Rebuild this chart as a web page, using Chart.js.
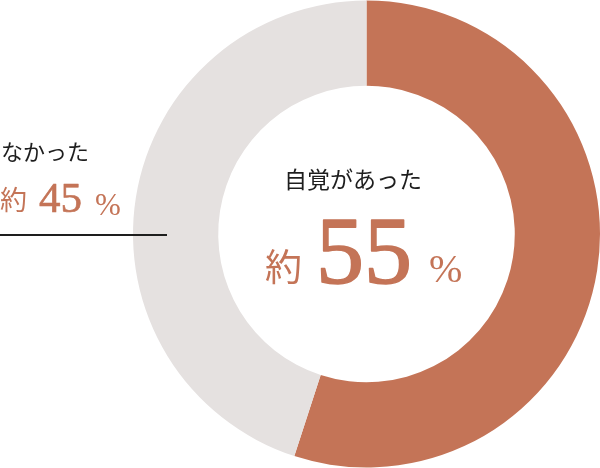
<!DOCTYPE html>
<html>
<head>
<meta charset="utf-8">
<script src="https://cdn.jsdelivr.net/npm/chart.js@4/dist/chart.umd.min.js"></script>
<style>
  html, body { margin: 0; padding: 0; background: #fff; }
  #wrap { position: relative; width: 600px; height: 468px; }
</style>
</head>
<body>
<div id="wrap"><canvas id="donut" width="600" height="468"></canvas></div>
<script>
  const labels = ['自覚があった', 'なかった'];
  const values = [55, 45];
  const colors = ['#C47457', '#E5E1E0'];

  const ACCENT = '#C47457';
  const INK = '#1e1e1e';
  const JP = '"Noto Sans CJK JP", "Noto Sans", sans-serif';
  const NUM = '"Liberation Serif", "DejaVu Serif", serif';

  // bold = extra stroke width to thicken thin serif digits
  function drawText(ctx, text, x, y, font, color, bold) {
    ctx.font = font;
    ctx.fillStyle = color;
    ctx.fillText(text, x, y);
    if (bold) {
      ctx.strokeStyle = color;
      ctx.lineWidth = bold;
      ctx.lineJoin = 'round';
      ctx.strokeText(text, x, y);
    }
  }

  const labelPlugin = {
    id: 'labels',
    afterDraw(chart) {
      const ctx = chart.ctx;
      ctx.save();
      ctx.textAlign = 'left';
      ctx.textBaseline = 'alphabetic';

      // center label (first series)
      drawText(ctx, labels[0], 284, 188, '23px ' + JP, INK);
      drawText(ctx, '約', 265, 281, '37px ' + JP, ACCENT);
      drawText(ctx, String(values[0]), 316, 283, '96px ' + NUM, ACCENT, 1.6);
      drawText(ctx, '%', 429, 282, '40px ' + NUM, ACCENT);

      // side label (second series)
      drawText(ctx, labels[1], 1, 160, '22px ' + JP, INK);
      drawText(ctx, '約', 0, 210, '27px ' + JP, ACCENT);
      drawText(ctx, String(values[1]), 39, 212, '43px ' + NUM, ACCENT, 0.6);
      drawText(ctx, '%', 95, 215, '31px ' + NUM, ACCENT);

      ctx.strokeStyle = INK;
      ctx.lineWidth = 2;
      ctx.beginPath();
      ctx.moveTo(0, 235);
      ctx.lineTo(167, 235);
      ctx.stroke();
      ctx.restore();
    }
  };

  new Chart(document.getElementById('donut'), {
    type: 'doughnut',
    data: {
      labels,
      datasets: [{
        data: values,
        backgroundColor: colors,
        borderWidth: 0,
      }],
    },
    options: {
      responsive: false,
      animation: false,
      events: [],
      cutout: '63.5%',
      layout: { padding: { left: 133, top: 0, right: 0, bottom: 0 } },
      plugins: {
        legend: { display: false },
        tooltip: { enabled: false },
      },
    },
    plugins: [labelPlugin],
  });
</script>
</body>
</html>
